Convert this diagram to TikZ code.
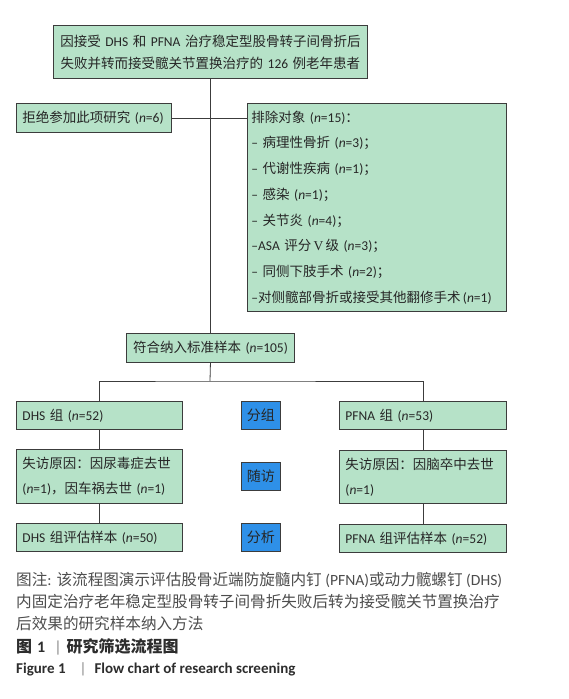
\documentclass[tikz,border=0pt]{standalone}
\usepackage{fontspec}
\setmainfont{Carlito}
\newfontfamily\cjk{Noto Sans CJK SC}
\newfontfamily\romv{Liberation Serif}
\usetikzlibrary{shadows}
\definecolor{boxgreen}{RGB}{182,226,200}
\definecolor{boxblue}{RGB}{46,144,232}
\definecolor{edgegray}{RGB}{60,60,60}
\definecolor{captext}{RGB}{77,77,77}
\definecolor{capdark}{RGB}{45,45,45}
\newcommand\zh[1]{{\cjk #1}}
\newcommand\cnt[1]{(\textit{n}=#1)}
\begin{document}
\begin{tikzpicture}[x=1pt,y=-1pt,
  boxbase/.style={draw=edgegray, line width=0.9pt, anchor=north west, inner ysep=2pt,
    text=black!85, drop shadow={shadow xshift=0.8pt, shadow yshift=-0.8pt, opacity=0.3, fill=black}},
  gbox/.style={boxbase, fill=boxgreen, inner xsep=6pt, align=left,
    font=\fontsize{13.5}{25.7}\selectfont},
  bbox/.style={boxbase, fill=boxblue, inner xsep=2pt, align=center,
    minimum width=39pt, minimum height=28pt, font=\fontsize{14}{16}\selectfont},
  conn/.style={draw=edgegray, line width=0.8pt},
  capline/.style={anchor=west, inner sep=0pt, text=captext, font=\fontsize{15.6}{18}\selectfont},
  capbold/.style={anchor=west, inner sep=0pt, text=capdark, font=\fontsize{15.6}{18}\selectfont\bfseries}
]
\useasboundingbox[fill=white] (0,0) rectangle (568,699);

% top box
\node[gbox, align=center, text width=302pt, minimum width=314pt, minimum height=53pt,
  font=\fontsize{13.5}{22}\selectfont] (top) at (53,25)
  {\zh{因接受} DHS \zh{和} PFNA \zh{治疗稳定型股骨转子间骨折后}\\
   \zh{失败并转而接受髋关节置换治疗的} 126 \zh{例老年患者}};

% refuse
\node[gbox, text width=143pt, minimum width=155pt, minimum height=29pt] (refuse) at (16,103)
  {\zh{拒绝参加此项研究} \cnt{6}};

% exclusion
\node[gbox, text width=251pt, inner xsep=4pt, minimum width=259pt, minimum height=208pt] (excl) at (247,103)
  {\zh{排除对象} \cnt{15}\zh{：}\\
   – \zh{病理性骨折} \cnt{3}\zh{；}\\
   – \zh{代谢性疾病} \cnt{1}\zh{；}\\
   – \zh{感染} \cnt{1}\zh{；}\\
   – \zh{关节炎} \cnt{4}\zh{；}\\
   –ASA \zh{评分}\,{\romv V}\,\zh{级} \cnt{3}\zh{；}\\
   – \zh{同侧下肢手术} \cnt{2}\zh{；}\\
   –\zh{对侧髋部骨折或接受其他翻修手术}\,\cnt{1}};

% included
\node[gbox, align=center, text width=156pt, minimum width=168pt, minimum height=29pt] (fuhe) at (126,333)
  {\zh{符合纳入标准样本} \cnt{105}};

% DHS column
\node[gbox, text width=154pt, minimum width=166pt, minimum height=28pt] (dhs) at (16,401)
  {DHS \zh{组} \cnt{52}};
\node[gbox, text width=154pt, minimum width=166pt, minimum height=54pt, font=\fontsize{13.5}{25}\selectfont] (dhsloss) at (16,449)
  {\zh{失访原因：因尿毒症去世}\\\cnt{1}\zh{，因车祸去世} \cnt{1}};
\node[gbox, text width=154pt, minimum width=166pt, minimum height=28pt] (dhseval) at (16,523)
  {DHS \zh{组评估样本} \cnt{50}};

% PFNA column
\node[gbox, text width=155pt, minimum width=167pt, minimum height=28pt] (pfna) at (339,401)
  {PFNA \zh{组} \cnt{53}};
\node[gbox, text width=155pt, minimum width=167pt, minimum height=53pt, font=\fontsize{13.5}{25}\selectfont] (pfnaloss) at (339,450)
  {\zh{失访原因：因脑卒中去世}\\\cnt{1}};
\node[gbox, text width=155pt, minimum width=167pt, minimum height=28pt] (pfnaeval) at (339,524)
  {PFNA \zh{组评估样本} \cnt{52}};

% blue labels
\node[bbox] (fenzu) at (241,401) {\zh{分组}};
\node[bbox] (suifang) at (241,462) {\zh{随访}};
\node[bbox] (fenxi) at (241,523) {\zh{分析}};

% connectors
\coordinate (split) at (210,381);
\draw[conn] (top.south) -- (fuhe.north);
\draw[conn] (refuse.east) -- (refuse.east -| excl.west);
\draw[conn] (fuhe.south) -- (split);
\draw[conn] (dhs.north) |- (split) -| (pfna.north);
\draw[conn] (dhs.south) -- (dhsloss.north);
\draw[conn] (dhsloss.south) -- (dhseval.north);
\draw[conn] (pfna.south) -- (pfnaloss.north);
\draw[conn] (pfnaloss.south) -- (pfnaeval.north);

% caption
\node[capline] (cap1) at (16,580)
  {\zh{图注}:\hspace{5pt}\zh{该流程图演示评估股骨近端防旋髓内钉} (PFNA)\zh{或动力髋螺钉} (DHS)};
\node[capline] (cap2) at (16,602)
  {\zh{内固定治疗老年稳定型股骨转子间骨折失败后转为接受髋关节置换治疗}};
\node[capline] (cap3) at (16,624)
  {\zh{后效果的研究样本纳入方法}};
\node[capbold, font=\fontsize{16}{18}\selectfont\bfseries] (cap4) at (16,647)
  {\zh{图}\hspace{5pt}1\hspace{9pt}{\mdseries\color{captext!70}|}\hspace{5pt}\zh{研究筛选流程图}};
\node[capbold, font=\fontsize{15}{18}\selectfont\bfseries] (cap5) at (16,669)
  {Figure 1\hspace{14pt}{\mdseries\color{captext!70}|}\hspace{8pt}Flow chart of research screening};
\end{tikzpicture}
\end{document}
